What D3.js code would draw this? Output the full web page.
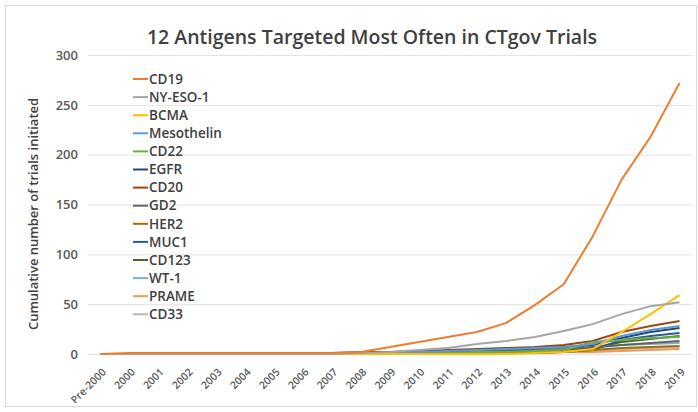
<!DOCTYPE html>
<html>
<head>
<meta charset="utf-8">
<script src="https://cdn.jsdelivr.net/npm/d3@7"></script>
<style>
  body { margin: 0; background: #fff; }
  text { font-family: "Open Sans", sans-serif; }
</style>
</head>
<body>
<svg id="chart" width="698" height="412"></svg>
<script>
const years = ["Pre-2000", "2000", "2001", "2002", "2003", "2004", "2005", "2006", "2007", "2008",
    "2009", "2010", "2011", "2012", "2013", "2014", "2015", "2016", "2017", "2018", "2019"];

const antigens = ["CD19", "NY-ESO-1", "BCMA", "Mesothelin", "CD22", "EGFR", "CD20",
    "GD2", "HER2", "MUC1", "CD123", "WT-1", "PRAME", "CD33"];

const colors = ["#ED7D31", "#A5A5A5", "#FFC000", "#5B9BD5", "#70AD47", "#264478", "#9E480E",
    "#636363", "#997300", "#255E91", "#43682B", "#7CAFDD", "#F1975A", "#B7B7B7"];

const cd19      = [0,1,1,1,1,1,1,1,1,2,7,12,17,22,31,49,70,118,175,218,272];
const nyeso1    = [0,0,0,0,0,0,0,0,0,1,2,4,6,10,13,17,23,30,40,48,52];
const bcma      = [0,0,0,0,0,0,0,0,0,0,0,0,0,0,0,1,2,5,22,40,59];
const meso      = [0,0,0,0,0,0,0,0,0,0,1,2,3,4,5,6,7,10,18,24,28];
const cd22      = [0,0,0,0,0,0,0,0,0,0,0,1,1,2,2,3,4,12,14,16,17];
const egfr      = [0,0,0,0,0,0,0,0,0,0,1,2,3,4,5,6,7,9,16,22,26];
const cd20      = [0,0,0,0,0,0,1,1,1,2,2,3,4,5,6,7,9,13,22,28,33];
const gd2       = [0,0,0,0,0,0,0,0,1,1,1,2,3,3,4,4,5,7,9,11,13];
const her2      = [0,0,0,0,0,0,0,0,0,1,1,1,2,2,2,3,3,4,6,7,8];
const muc1      = [0,0,0,0,0,0,0,0,0,0,0,0,0,0,1,1,2,4,14,18,21];
const cd123     = [0,0,0,0,0,0,0,0,0,0,0,0,0,0,1,2,3,6,12,15,18];
const wt1       = [0,0,0,0,0,0,0,0,0,0,1,1,1,2,2,3,4,6,9,10,11];
const prame     = [0,0,0,0,0,0,0,0,0,0,0,0,0,0,1,1,2,2,3,4,5];
const cd33      = [0,0,0,0,0,0,0,0,0,0,0,0,0,1,1,1,2,3,5,6,7];

const yTicks = [0, 50, 100, 150, 200, 250, 300];

const seriesValues = [cd19, nyeso1, bcma, meso, cd22, egfr, cd20, gd2, her2, muc1, cd123, wt1, prame, cd33];
const series = antigens.map((name, i) => ({ name, color: colors[i], values: seriesValues[i] }));

const svg = d3.select("#chart");

// outer frame
svg.append("rect")
    .attr("x", 5.5).attr("y", 5.5)
    .attr("width", 691).attr("height", 401)
    .attr("fill", "none").attr("stroke", "#d9d9d9");

const x = d3.scalePoint().domain(years).range([86, 694]).padding(0.5);
const y = d3.scaleLinear().domain([0, 300]).range([354, 55]);

// gridlines
svg.append("g")
    .attr("transform", "translate(88,0)")
    .call(d3.axisRight(y).tickValues(yTicks).tickSize(605).tickFormat(() => ""))
    .call(g => g.select(".domain").remove())
    .call(g => g.selectAll("line").attr("stroke", "#e3e3e3").attr("stroke-width", 1));

// y axis labels
svg.append("g")
    .attr("transform", "translate(81,0)")
    .call(d3.axisLeft(y).tickValues(yTicks).tickSize(0))
    .call(g => g.select(".domain").remove())
    .call(g => g.selectAll("text")
        .attr("fill", "#595959")
        .attr("font-size", "13px")
        .attr("font-weight", "600"));

// x axis labels
svg.append("g")
    .attr("transform", "translate(0,358)")
    .call(d3.axisBottom(x).tickSize(0))
    .call(g => g.select(".domain").remove())
    .call(g => g.selectAll("text")
        .attr("fill", "#595959")
        .attr("font-size", "10.5px")
        .attr("font-weight", "600")
        .attr("text-anchor", "end")
        .attr("dy", "0.35em")
        .attr("transform", "translate(1,10) rotate(-45)"));

// y axis title
svg.append("text")
    .attr("transform", "translate(38,214) rotate(-90)")
    .attr("text-anchor", "middle")
    .attr("fill", "#404040")
    .attr("font-size", "13px")
    .attr("font-weight", "600")
    .text("Cumulative number of trials initiated");

// title
svg.append("text")
    .attr("x", 372).attr("y", 44)
    .attr("text-anchor", "middle")
    .attr("fill", "#404040")
    .attr("font-size", "19.5px")
    .attr("font-weight", "600")
    .text("12 Antigens Targeted Most Often in CTgov Trials");

// lines (draw last series first so CD19 sits on top)
const line = d3.line()
    .x((d, i) => x(years[i]))
    .y(d => y(d));

svg.append("g")
    .selectAll("path")
    .data(series.slice().reverse())
    .join("path")
    .attr("d", d => line(d.values))
    .attr("fill", "none")
    .attr("stroke", d => d.color)
    .attr("stroke-width", 2)
    .attr("stroke-linejoin", "round");

// legend
const legend = svg.append("g").attr("transform", "translate(133,79)");
const rows = legend.selectAll("g")
    .data(series)
    .join("g")
    .attr("transform", (d, i) => `translate(0,${i * 18.1})`);

rows.append("line")
    .attr("x1", 0).attr("x2", 15)
    .attr("stroke", d => d.color)
    .attr("stroke-width", 2);

rows.append("text")
    .attr("x", 16)
    .attr("dy", "0.35em")
    .attr("fill", "#404040")
    .attr("font-size", "13.5px")
    .attr("font-weight", "600")
    .text(d => d.name);
</script>
</body>
</html>
